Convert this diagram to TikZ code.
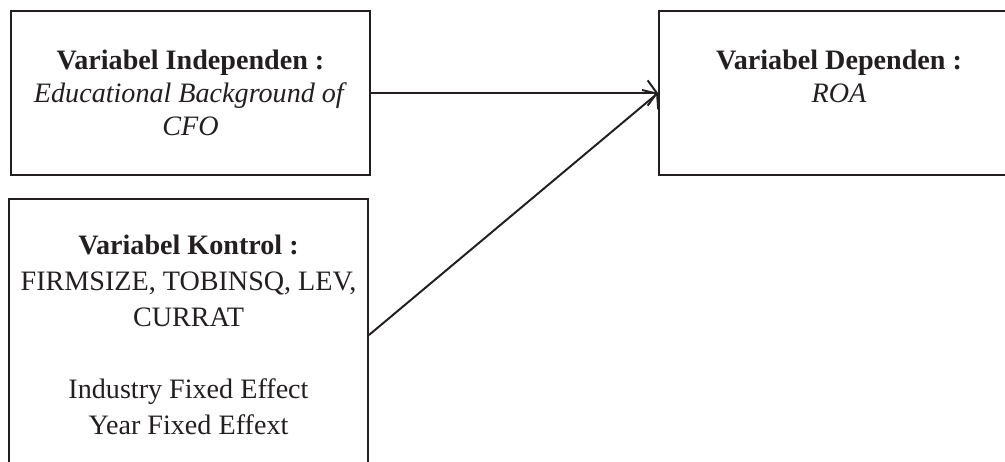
\documentclass[tikz,border=0pt]{standalone}
\usepackage{fontspec}
\setmainfont{Liberation Serif}
\usepackage{tikz}
\usetikzlibrary{positioning,arrows.meta}
\usepackage{xcolor}
\definecolor{ink}{HTML}{231F20}

\begin{document}
\begin{tikzpicture}[x=0.025cm, y=-0.025cm, >={Straight Barb[length=6.5pt,width=18pt]},
    font=\fontsize{20}{23.5}\selectfont, ink,
    varbox/.style={draw=ink, line width=1.4pt, align=center, inner sep=0pt,
      minimum width=359*0.025cm}]
    \useasboundingbox (0,0) rectangle (1005,461);
    \clip (0,0) rectangle (1005,461);
    \node[varbox, minimum height=164*0.025cm] (indep) at (190.5,93)
      {\textbf{Variabel Independen :}\\ \textit{Educational Background of}\\ \textit{CFO}};
    \node[varbox, minimum height=164*0.025cm, minimum width=360*0.025cm] (dep) at (839,93)
      {\textbf{Variabel Dependen :}\\ \textit{ROA}\\ \mbox{}};
    \node[varbox, minimum height=272*0.025cm, font=\fontsize{20}{25.7}\selectfont] (kontrol) at (188.5,335)
      {\textbf{Variabel Kontrol :}\\ FIRMSIZE, TOBINSQ, LEV,\\ CURRAT\\ \mbox{}\\ Industry Fixed Effect\\ Year Fixed Effext};
    \draw[->, line width=1.4pt] (indep.east) -- (dep.west);
    \draw[->, line width=1.4pt] (kontrol.east) -- (dep.west);
  \end{tikzpicture}
\end{document}
